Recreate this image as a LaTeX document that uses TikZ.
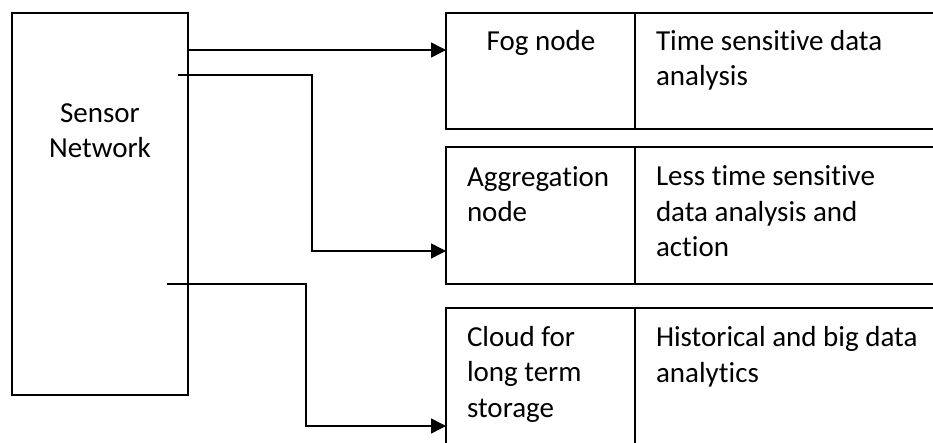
\documentclass[tikz,border=0pt]{standalone}
\usepackage{fontspec}
\setmainfont{Carlito}[Ligatures={NoCommon}]
\usetikzlibrary{arrows.meta,calc}
\begin{document}
\begin{tikzpicture}[x=1pt,y=-1pt,
  boxc/.style={draw=black,line width=1.6pt,rectangle,inner sep=0pt,outer sep=0pt,anchor=north west},
  txt/.style={inner sep=0pt,outer sep=0pt,font=\fontsize{29}{35.5}\selectfont,align=left,anchor=base west},
  arr/.style={line width=1.5pt,-{Triangle[length=15pt,width=15pt]}}]
\useasboundingbox (0,0) rectangle (933,443);
\fill[white] (0,0) rectangle (933,443);
\clip (0,0) rectangle (933,443);
% Sensor network
\node[boxc,minimum width=176pt,minimum height=382pt] (sn) at (12,13) {};
\node[txt,align=center,anchor=base] (snl) at (100,158) {Sensor\\Network};
% Fog row
\node[boxc,minimum width=189pt,minimum height=116pt] (fog) at (446,13) {};
\node[boxc,minimum width=320pt,minimum height=116pt] (fogd) at (635,13) {};
\node[txt,anchor=base] (fogl) at (541,51) {Fog node};
\node[txt] (fogdl) at (656,86) {Time sensitive data\\analysis};
% Aggregation row
\node[boxc,minimum width=189pt,minimum height=137pt] (agg) at (446,147) {};
\node[boxc,minimum width=320pt,minimum height=137pt] (aggd) at (635,147) {};
\node[txt] (aggl) at (467,222) {Aggregation\\node};
\node[txt] (aggdl) at (656,257) {Less time sensitive\\data analysis and\\action};
% Cloud row
\node[boxc,minimum width=189pt,minimum height=160pt] (cld) at (446,308) {};
\node[boxc,minimum width=320pt,minimum height=160pt] (cldd) at (635,308) {};
\node[txt] (cldl) at (467,417) {Cloud for\\long term\\storage};
\node[txt] (clddl) at (656,382) {Historical and big data\\analytics};
% connectors
\coordinate (s2) at (178,75);
\coordinate (s3) at (167,284);
\coordinate (b2) at (312,75);
\coordinate (b3) at (306,284);
\draw[arr] (sn.east |- 0,50) -- (fog.west |- 0,50);
\draw[arr] (s2) -- (b2) |- (agg.west |- 0,251);
\draw[arr] (s3) -- (b3) |- (cld.west |- 0,426);
\end{tikzpicture}
\end{document}
